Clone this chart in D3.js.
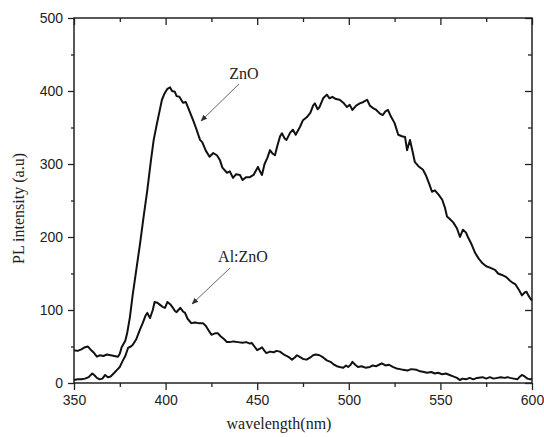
<!DOCTYPE html>
<html>
<head>
<meta charset="utf-8">
<script src="https://cdn.jsdelivr.net/npm/d3@7"></script>
<style>
  body { margin: 0; background: #fff; }
  svg { display: block; }
</style>
</head>
<body>
<div id="chart"></div>
<script>
// ZnO photoluminescence spectrum
const znoWave = [350, 352, 354, 356, 357.5, 359, 361, 362.5, 364, 366, 368, 370, 372, 374, 375, 376, 378, 379, 380.5, 382, 384, 386, 388, 390, 392, 393.5, 395, 396.5, 398, 399.5, 401, 402.4, 403.5, 405, 406, 407.5, 409.5, 411, 412.5, 415, 416.5, 418.8, 420, 422, 424, 426, 428, 429.7, 431, 433.5, 435, 436.8, 438.5, 440.6, 442, 444, 446, 448, 450.4, 451.5, 452.6, 454, 455.5, 457, 458.5, 459.7, 461, 462.5, 463.5, 465, 466, 468, 469.5, 471, 473.4, 475, 477, 479, 480.5, 481.5, 483, 484, 486, 488, 489.5, 491, 493, 495, 497, 499, 500.5, 502, 504, 506, 508, 510, 511.5, 513, 515, 517, 518.5, 520, 521.4, 523, 525, 527, 529, 530.7, 531.8, 533.4, 535, 536, 538, 540.5, 542, 544, 545.4, 547, 549, 551, 552.5, 553.6, 555, 557, 559, 560.7, 562.3, 564, 565, 567, 569, 571, 573, 575, 577, 579.8, 581.5, 583.6, 586, 588, 589.6, 591, 593, 594.5, 596, 597, 598, 599, 600];
const znoPL = [45, 44, 46, 49, 50, 46, 41, 36, 38, 37, 39, 38, 37, 36, 40, 49, 58, 68, 90, 120, 155, 190, 228, 264, 305, 333, 352, 370, 388, 397, 403, 405, 400, 399, 393, 392, 384, 385, 376, 360, 350, 333, 330, 318, 310, 315, 312, 305, 295, 288, 290, 281, 286, 285, 278, 282, 282, 285, 296, 290, 285, 300, 308, 319, 314, 312, 325, 338, 342, 335, 333, 343, 347, 340, 351, 360, 364, 370, 380, 383, 375, 378, 390, 395, 390, 392, 389, 388, 384, 378, 381, 374, 380, 383, 385, 388, 380, 377, 374, 369, 367, 372, 374, 365, 356, 340, 338, 337, 319, 333, 315, 303, 297, 292, 285, 272, 262, 264, 258, 251, 240, 228, 225, 220, 212, 200, 210, 206, 200, 190, 178, 170, 164, 160, 158, 155, 150, 148, 145, 140, 137, 135, 127, 120, 124, 125, 120, 116, 113];

// Al:ZnO photoluminescence spectrum
const alWave = [350, 352, 354, 356, 358, 360, 361, 362.5, 364, 365.5, 367, 368.5, 370, 372, 373.5, 375, 376.5, 378, 379.5, 381, 382, 384, 386, 387.5, 389, 390, 391.5, 393, 394, 395.5, 397, 398.5, 399.7, 401, 402.5, 404, 405, 406, 407, 408, 409.5, 410.6, 412, 414, 416, 418, 420.4, 422, 423.5, 425, 427, 428.6, 430, 432, 433.5, 435, 437, 439.5, 442, 444, 446, 447, 448.5, 450, 451.5, 452.6, 454, 455, 457, 459, 460.5, 462.4, 464, 466, 467.5, 469, 470.5, 471.7, 473, 475, 477, 479, 480.5, 482, 484, 486, 488, 490, 492, 493.5, 495, 497, 498.5, 499.6, 501, 502, 503.5, 505, 507, 509, 511.6, 513, 515, 516.5, 518, 520, 522, 524, 526, 528, 529.6, 532, 534, 537, 539, 541, 542.7, 545, 547, 548.7, 551, 553, 555, 557, 559, 560.7, 562, 564, 566, 568, 570, 573, 575, 577, 579, 581, 583, 585, 586.6, 588, 590, 592, 593.5, 594.5, 596, 597.5, 599, 600];
const alPL = [4, 5, 5, 6, 8, 13, 11, 7, 5, 6, 11, 8, 9, 14, 18, 22, 30, 37, 48, 50, 52, 60, 73, 82, 92, 96, 89, 100, 111, 110, 107, 104, 103, 111, 108, 103, 99, 97, 100, 103, 98, 96, 88, 82, 83, 82, 82, 78, 72, 66, 68, 68, 64, 60, 56, 56, 57, 56, 55, 56, 54, 55, 50, 45, 47, 49, 44, 41, 43, 42, 44, 43, 40, 37, 35, 32, 35, 38, 36, 33, 32, 35, 38, 39, 38, 35, 31, 29, 25, 23, 22, 21, 24, 22, 25, 29, 25, 22, 23, 21, 22, 24, 23, 25, 27, 24, 25, 22, 20, 19, 18, 17, 19, 18, 16, 15, 14, 15, 13, 14, 12, 13, 11, 9, 7, 4, 6, 5, 7, 5, 7, 8, 6, 8, 6, 7, 8, 7, 8, 7, 6, 5, 9, 11, 9, 6, 5, 6];

const xTicks = [350, 400, 450, 500, 550, 600];
const yTicks = [0, 100, 200, 300, 400, 500];
const xMinor = [375, 425, 475, 525, 575];
const yMinor = [50, 150, 250, 350, 450];

const width = 544, height = 437;
const margin = { top: 18, right: 12, bottom: 54, left: 74 };

const svg = d3.select("#chart").append("svg")
  .attr("width", width).attr("height", height);

const x = d3.scaleLinear().domain([350, 600]).range([margin.left, width - margin.right]);
const y = d3.scaleLinear().domain([0, 500]).range([height - margin.bottom, margin.top]);

const axisColor = "#222";

// outward ticks, bottom and left
const gx = svg.append("g").attr("transform", `translate(0,${y(0)})`)
  .call(d3.axisBottom(x).tickValues(xTicks).tickSize(7).tickPadding(5).tickFormat(d3.format("d")));
const gxm = svg.append("g").attr("transform", `translate(0,${y(0)})`)
  .call(d3.axisBottom(x).tickValues(xMinor).tickSize(4).tickFormat(""));
const gy = svg.append("g").attr("transform", `translate(${x(350)},0)`)
  .call(d3.axisLeft(y).tickValues(yTicks).tickSize(6).tickPadding(5).tickFormat(d3.format("d")));
const gym = svg.append("g").attr("transform", `translate(${x(350)},0)`)
  .call(d3.axisLeft(y).tickValues(yMinor).tickSize(3).tickFormat(""));

// inward ticks, top and right
const gt = svg.append("g").attr("transform", `translate(0,${y(500)})`)
  .call(d3.axisBottom(x).tickValues(xTicks).tickSize(7).tickFormat(""));
const gtm = svg.append("g").attr("transform", `translate(0,${y(500)})`)
  .call(d3.axisBottom(x).tickValues(xMinor).tickSize(4).tickFormat(""));
const gr = svg.append("g").attr("transform", `translate(${x(600)},0)`)
  .call(d3.axisLeft(y).tickValues(yTicks).tickSize(7).tickFormat(""));
const grm = svg.append("g").attr("transform", `translate(${x(600)},0)`)
  .call(d3.axisLeft(y).tickValues(yMinor).tickSize(4).tickFormat(""));

[gx, gxm, gy, gym, gt, gtm, gr, grm].forEach((g) => {
  g.select(".domain").remove();
  g.selectAll(".tick line").attr("stroke", axisColor).attr("stroke-width", 1.3);
  g.selectAll(".tick text").attr("fill", axisColor)
    .style("font-family", "'Liberation Sans', Arial, sans-serif").style("font-size", "14px");
});

// frame
svg.append("rect")
  .attr("x", x(350)).attr("y", y(500))
  .attr("width", x(600) - x(350)).attr("height", y(0) - y(500))
  .attr("fill", "none").attr("stroke", axisColor).attr("stroke-width", 1.5);

// curves
const line = d3.line().x((d) => x(d[0])).y((d) => y(d[1]));
const series = [d3.zip(znoWave, znoPL), d3.zip(alWave, alPL)];
svg.selectAll("path.curve").data(series).join("path")
  .attr("class", "curve")
  .attr("d", line)
  .attr("fill", "none")
  .attr("stroke", "#111")
  .attr("stroke-width", 2)
  .attr("stroke-linejoin", "round");

// axis titles
svg.append("text")
  .attr("x", 279).attr("y", 429)
  .attr("text-anchor", "middle")
  .style("font-family", "'Liberation Serif', 'Times New Roman', serif").style("font-size", "16px")
  .attr("fill", axisColor)
  .text("wavelength(nm)");

svg.append("text")
  .attr("transform", `translate(24,${(y(0) + y(500)) / 2 + 8}) rotate(-90)`)
  .attr("text-anchor", "middle")
  .style("font-family", "'Liberation Serif', 'Times New Roman', serif").style("font-size", "16px")
  .attr("fill", axisColor)
  .text("PL intensity (a.u)");

// annotations
const defs = svg.append("defs");
defs.append("marker")
  .attr("id", "arrow").attr("viewBox", "0 0 10 10")
  .attr("refX", 9).attr("refY", 5)
  .attr("markerWidth", 7).attr("markerHeight", 7)
  .attr("orient", "auto")
  .append("path").attr("d", "M0,1 L10,5 L0,9 Z").attr("fill", "#333");

const notes = [
  { label: "ZnO", tx: 244, ty: 79, from: [239, 84], to: [201, 121] },
  { label: "Al:ZnO", tx: 243, ty: 262, from: [230, 268], to: [192, 304] }
];
notes.forEach((n) => {
  svg.append("text")
    .attr("x", n.tx).attr("y", n.ty).attr("text-anchor", "middle")
    .style("font-family", "'Liberation Serif', 'Times New Roman', serif").style("font-size", "16px")
    .attr("fill", axisColor)
    .text(n.label);
  svg.append("line")
    .attr("x1", n.from[0]).attr("y1", n.from[1])
    .attr("x2", n.to[0]).attr("y2", n.to[1])
    .attr("stroke", "#666").attr("stroke-width", 1)
    .attr("marker-end", "url(#arrow)");
});
</script>
</body>
</html>
